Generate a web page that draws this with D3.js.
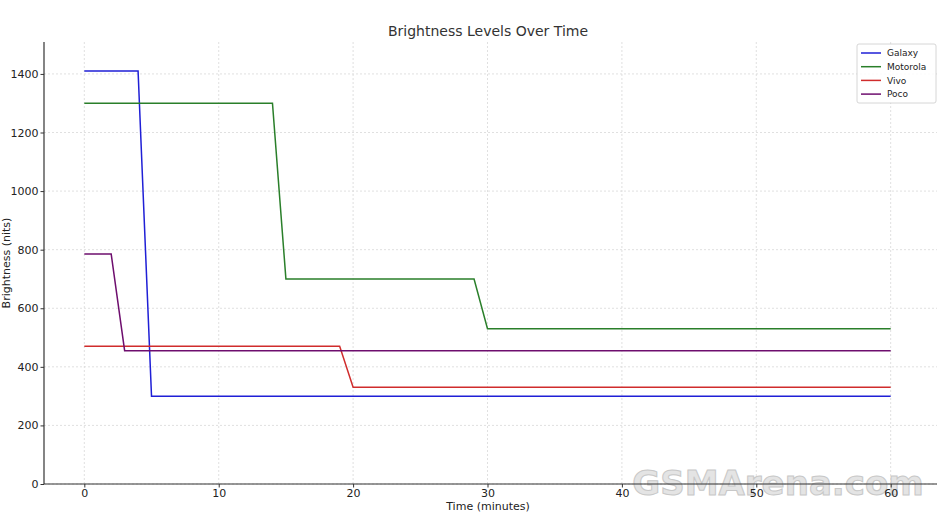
<!DOCTYPE html>
<html><head><meta charset="utf-8">
<script src="https://cdn.jsdelivr.net/npm/d3@7"></script>
<style>body{margin:0;background:#fff}svg{display:block;font-family:"DejaVu Sans",sans-serif}</style>
</head><body><svg id="c" width="941" height="512"></svg>
<script>
const seriesNames = ["Galaxy", "Motorola", "Vivo", "Poco"];
const galaxyT = [0, 4, 5, 60];
const galaxyV = [1410, 1410, 300, 300];
const motorolaT = [0, 14, 15, 29, 30, 60];
const motorolaV = [1300, 1300, 700, 700, 530, 530];
const vivoT = [0, 19, 20, 60];
const vivoV = [470, 470, 330, 330];
const pocoT = [0, 2, 3, 60];
const pocoV = [785, 785, 455, 455];
const xTicks = [0, 10, 20, 30, 40, 50, 60];
const yTicks = [0, 200, 400, 600, 800, 1000, 1200, 1400];
const colors = ["#1f1fd6", "#2a7f2a", "#d02c2c", "#6e0e6e"];

const series = [
  {name: seriesNames[0], t: galaxyT, v: galaxyV},
  {name: seriesNames[1], t: motorolaT, v: motorolaV},
  {name: seriesNames[2], t: vivoT, v: vivoV},
  {name: seriesNames[3], t: pocoT, v: pocoV}
];

const svg = d3.select("#c");
const L = 44, R = 931, T = 42, B = 484;
const x = d3.scaleLinear().domain([-3, 63]).range([L, R]);
const y = d3.scaleLinear().domain([0, 1509]).range([B, T]);

// grid
const g = svg.append("g");
g.selectAll(".gx").data(xTicks).join("line")
  .attr("x1", d => x(d)).attr("x2", d => x(d)).attr("y1", T).attr("y2", B)
  .attr("stroke", "#d8d8d8").attr("stroke-width", 0.8).attr("stroke-dasharray", "2,2");
g.selectAll(".gy").data(yTicks).join("line")
  .attr("x1", L).attr("x2", 937).attr("y1", d => y(d)).attr("y2", d => y(d))
  .attr("stroke", "#d8d8d8").attr("stroke-width", 0.8).attr("stroke-dasharray", "2,2");

// watermark
svg.append("text").attr("x", 778).attr("y", 495).attr("text-anchor", "middle")
  .attr("font-family", "'DejaVu Sans', sans-serif").attr("font-weight", "bold")
  .attr("font-size", 34).attr("fill", "#e4e4e4").attr("stroke", "#c8c8c8").attr("stroke-width", 1)
  .text("GSMArena.com");

// lines
const line = d3.line().x(d => x(d[0])).y(d => y(d[1]));
series.forEach((s, i) => {
  svg.append("path").datum(s.t.map((t, j) => [t, s.v[j]]))
    .attr("d", line).attr("fill", "none").attr("stroke", colors[i]).attr("stroke-width", 1.5);
});

// axes
const xAxis = d3.axisBottom(x).tickValues(xTicks).tickSize(3.5).tickPadding(2).tickFormat(d3.format("d"));
const yAxis = d3.axisLeft(y).tickValues(yTicks).tickSize(3.5).tickPadding(2).tickFormat(d3.format("d"));
const gx = svg.append("g").attr("transform", `translate(0,${B})`).call(xAxis);
const gy = svg.append("g").attr("transform", `translate(${L},0)`).call(yAxis);
[gx, gy].forEach(a => {
  a.selectAll("text").attr("font-family", "'DejaVu Sans', sans-serif").attr("font-size", 11).attr("fill", "#222");
  a.selectAll(".tick line").attr("stroke", "#333");
  a.select(".domain").remove();
});
svg.append("line").attr("x1", L).attr("x2", L).attr("y1", T).attr("y2", B).attr("stroke", "#333").attr("stroke-width", 1.2);
svg.append("line").attr("x1", L).attr("x2", 937).attr("y1", B).attr("y2", B).attr("stroke", "#333").attr("stroke-width", 1.2);

// labels
svg.append("text").attr("x", 488).attr("y", 36).attr("text-anchor", "middle")
  .attr("font-size", 14).attr("fill", "#333").text("Brightness Levels Over Time");
svg.append("text").attr("x", 488).attr("y", 510).attr("text-anchor", "middle")
  .attr("font-size", 11).attr("fill", "#222").text("Time (minutes)");
svg.append("text").attr("transform", "translate(10,263) rotate(-90)").attr("text-anchor", "middle")
  .attr("font-size", 11).attr("fill", "#222").text("Brightness (nits)");

// legend
const lg = svg.append("g");
lg.append("rect").attr("x", 857).attr("y", 44).attr("width", 79).attr("height", 59).attr("rx", 2)
  .attr("fill", "#fff").attr("fill-opacity", 0.85).attr("stroke", "#ccc").attr("stroke-width", 0.8);
series.forEach((s, i) => {
  const yy = 53 + i * 13.7;
  lg.append("line").attr("x1", 861).attr("x2", 881).attr("y1", yy).attr("y2", yy)
    .attr("stroke", colors[i]).attr("stroke-width", 1.5);
  lg.append("text").attr("x", 887).attr("y", yy + 3.3).attr("font-size", 9).attr("fill", "#222").text(s.name);
});
</script></body></html>
